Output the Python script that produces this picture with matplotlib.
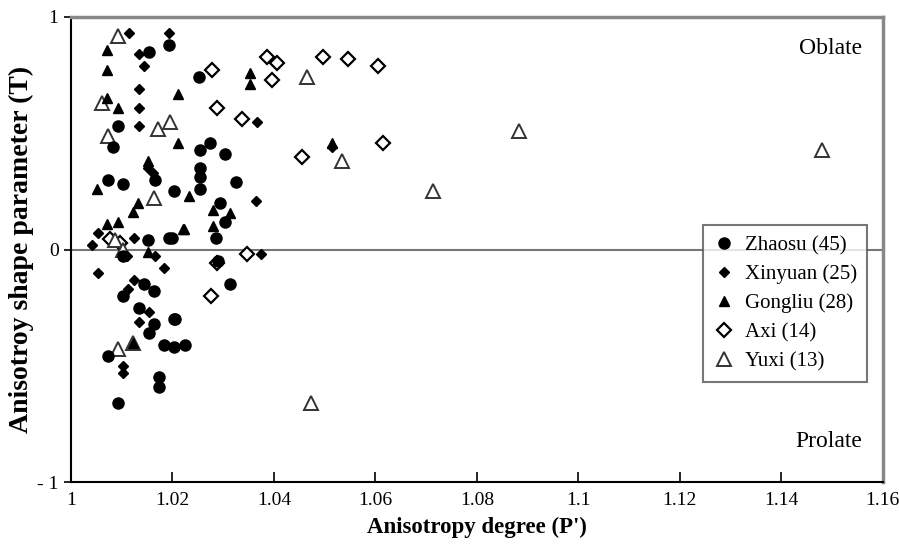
import matplotlib
matplotlib.use("Agg")
import matplotlib.pyplot as plt

plt.rcParams['font.family'] = ['Liberation Serif', 'DejaVu Serif']

# Zhaosu (45)
zhaosu_x = [1.0193, 1.0154, 1.0252, 1.0093, 1.0083, 1.0254, 1.0274, 1.0254, 1.0254, 1.0254,
            1.0303, 1.0166, 1.0073, 1.0103, 1.0203, 1.0325, 1.0294, 1.0303, 1.0286, 1.0199,
            1.0152, 1.0193, 1.0103, 1.0290, 1.0144, 1.0164, 1.0102, 1.0134, 1.0203, 1.0164,
            1.0154, 1.0183, 1.0203, 1.0225, 1.0073, 1.0174, 1.0174, 1.0093, 1.0313, 1.0205]
zhaosu_y = [0.88, 0.85, 0.74, 0.53, 0.44, 0.43, 0.46, 0.35, 0.31, 0.26,
            0.41, 0.30, 0.30, 0.28, 0.25, 0.29, 0.20, 0.12, 0.05, 0.05,
            0.04, 0.05, -0.03, -0.05, -0.15, -0.18, -0.20, -0.25, -0.30, -0.32,
            -0.36, -0.41, -0.42, -0.41, -0.46, -0.55, -0.59, -0.66, -0.15, -0.30]

# Xinyuan (25)
xinyuan_x = [1.0114, 1.0193, 1.0134, 1.0144, 1.0134, 1.0134, 1.0134, 1.0152, 1.0161, 1.0367,
             1.0365, 1.0374, 1.0053, 1.0041, 1.0124, 1.0166, 1.0110, 1.0183, 1.0053, 1.0124,
             1.0112, 1.0154, 1.0134, 1.0103, 1.0103, 1.0514]
xinyuan_y = [0.93, 0.93, 0.84, 0.79, 0.69, 0.61, 0.53, 0.35, 0.33, 0.55,
             0.21, -0.02, 0.07, 0.02, 0.05, -0.03, -0.03, -0.08, -0.10, -0.13,
             -0.17, -0.27, -0.31, -0.50, -0.53, 0.44]

# Gongliu (28)
gongliu_x = [1.0071, 1.0071, 1.0211, 1.0071, 1.0093, 1.0211, 1.0152, 1.0051, 1.0233, 1.0353,
             1.0353, 1.0280, 1.0313, 1.0280, 1.0221, 1.0132, 1.0122, 1.0071, 1.0093, 1.0223,
             1.0152, 1.0514, 1.0122]
gongliu_y = [0.86, 0.77, 0.67, 0.65, 0.61, 0.46, 0.38, 0.26, 0.23, 0.76,
             0.71, 0.17, 0.155, 0.10, 0.09, 0.20, 0.16, 0.11, 0.12, 0.09,
             -0.01, 0.46, -0.40]

# Axi (14)
axi_x = [1.0278, 1.0386, 1.0406, 1.0396, 1.0497, 1.0546, 1.0605, 1.0288, 1.0337, 1.0455,
         1.0615, 1.0347, 1.0288, 1.0276, 1.0077, 1.0097]
axi_y = [0.77, 0.83, 0.80, 0.73, 0.83, 0.82, 0.79, 0.61, 0.56, 0.40,
         0.46, -0.02, -0.06, -0.20, 0.045, 0.03]

# Yuxi (13)
yuxi_x = [1.0093, 1.0061, 1.0171, 1.0195, 1.0073, 1.0164, 1.0465, 1.0534, 1.0713, 1.0883,
          1.1480, 1.0473, 1.0093, 1.0122, 1.0087, 1.0103]
yuxi_y = [0.92, 0.63, 0.52, 0.55, 0.49, 0.22, 0.74, 0.38, 0.25, 0.51,
          0.43, -0.66, -0.43, -0.40, 0.04, 0.00]

fig = plt.figure(figsize=(8.99, 5.5), dpi=100)
ax = fig.add_axes([0.079, 0.1236, 0.903, 0.8455])

ax.axhline(0, color='#777777', lw=1.5, zorder=1)

ax.plot(zhaosu_x, zhaosu_y, 'o', color='black', ms=8, ls='none', label='Zhaosu (45)', zorder=3)
ax.plot(xinyuan_x, xinyuan_y, 'D', color='black', ms=5, ls='none', label='Xinyuan (25)', zorder=3)
ax.plot(gongliu_x, gongliu_y, '^', color='black', ms=6.5, ls='none', label='Gongliu (28)', zorder=3)
ax.plot(axi_x, axi_y, 'D', mfc='white', mec='black', mew=1.6, ms=7, ls='none', label='Axi (14)', zorder=2)
ax.plot(yuxi_x, yuxi_y, '^', mfc='white', mec='#333333', mew=1.4, ms=10, ls='none', label='Yuxi (13)', zorder=2)

ax.set_xlim(1, 1.16)
ax.set_ylim(-1, 1)
ax.set_xticks([1, 1.02, 1.04, 1.06, 1.08, 1.1, 1.12, 1.14, 1.16])
ax.set_xticklabels(['1', '1.02', '1.04', '1.06', '1.08', '1.1', '1.12', '1.14', '1.16'], fontsize=14)
ax.set_yticks([-1, 0, 1])
ax.set_yticklabels(['- 1', '0', '1'], fontsize=14)
ax.tick_params(axis='x', direction='in', length=7, width=1.2, pad=7)
ax.tick_params(axis='y', direction='out', length=5, width=1.2, pad=4)

for s in ['left', 'bottom']:
    ax.spines[s].set_linewidth(1.5)
for s in ['top', 'right']:
    ax.spines[s].set_linewidth(2.5)
    ax.spines[s].set_color('#888888')

ax.set_xlabel("Anisotropy degree (P')", fontsize=16.5, fontweight='bold', labelpad=6)
ax.set_ylabel("Anisotroy shape parameter (T)", fontsize=20, fontweight='bold', labelpad=2)

ax.text(0.975, 0.955, 'Oblate', transform=ax.transAxes, ha='right', va='top', fontsize=17)
ax.text(0.975, 0.065, 'Prolate', transform=ax.transAxes, ha='right', va='bottom', fontsize=17)

leg = ax.legend(loc='center right', bbox_to_anchor=(0.981, 0.384), fontsize=15, frameon=True,
                fancybox=False, edgecolor='#555555', handletextpad=0.5, labelspacing=0.45,
                borderpad=0.5, handlelength=1.0, markerscale=1.0, borderaxespad=0)
leg.get_frame().set_linewidth(1.5)

fig.savefig('out.png', dpi=100)
